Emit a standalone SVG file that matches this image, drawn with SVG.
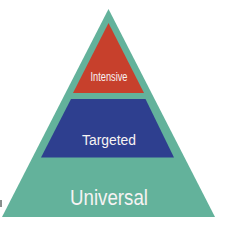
<svg xmlns="http://www.w3.org/2000/svg" width="226" height="230" viewBox="0 0 226 230">
<style>
.lbl{font-family:"Liberation Sans","Noto Sans",Arial,sans-serif;fill:#f6f3f3;text-anchor:middle}
</style>
<rect width="226" height="230" fill="#ffffff"/>
<rect x="0" y="200" width="2" height="7" fill="#8a8f8d"/>
<g id="universal">
<polygon points="108.5,9 2,217 215,217" fill="#63b29b"/>
<text class="lbl" x="109" y="205" font-size="22" textLength="78" lengthAdjust="spacingAndGlyphs">Universal</text>
</g>
<g id="targeted">
<polygon points="71,99 145.5,99 174,157.5 41,157.5" fill="#2e3f8f"/>
<text class="lbl" x="109" y="144.5" font-size="15.5" textLength="54" lengthAdjust="spacingAndGlyphs">Targeted</text>
</g>
<g id="intensive">
<polygon points="108.5,23 144,93 73,93" fill="#c7402c"/>
<text class="lbl" x="109" y="80.5" font-size="12" textLength="37" lengthAdjust="spacingAndGlyphs">Intensive</text>
</g>
<g id="connectors"/>
</svg>
